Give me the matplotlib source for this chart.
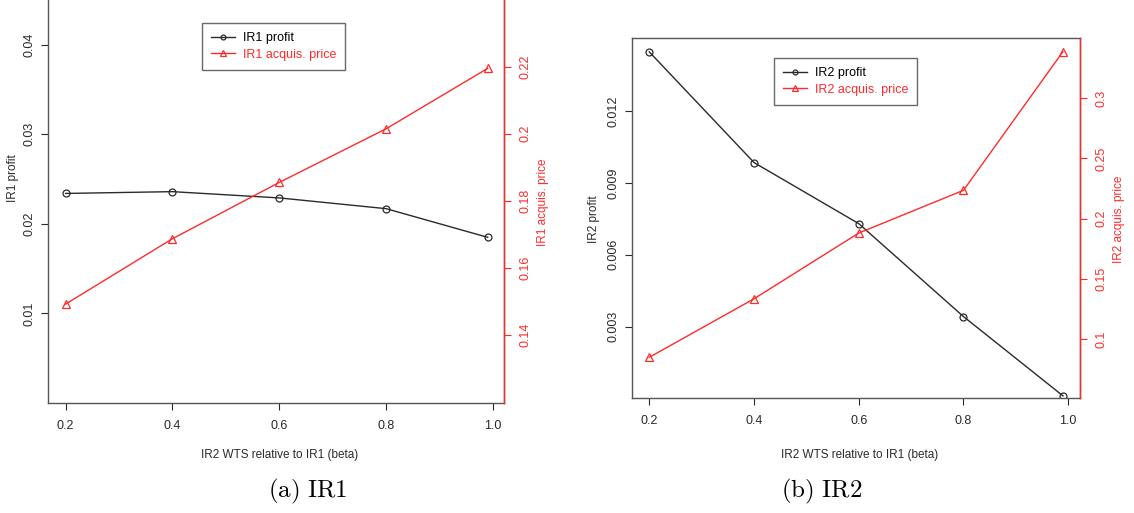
import matplotlib
matplotlib.use("Agg")
import matplotlib.pyplot as plt

plt.rcParams['font.family'] = ['Liberation Sans', 'DejaVu Sans']
plt.rcParams['mathtext.fontset'] = 'cm'

# data
beta = [0.2, 0.4, 0.6, 0.8, 0.99]
ir1_profit = [0.0234, 0.0236, 0.0229, 0.0217, 0.0185]
ir1_price = [0.1492, 0.1687, 0.1855, 0.2015, 0.2195]
ir2_profit = [0.01447, 0.00985, 0.0073, 0.00342, 0.00011]
ir2_price = [0.0848, 0.1334, 0.188, 0.2235, 0.3387]

xticks = [0.2, 0.4, 0.6, 0.8, 1.0]
xtick_labels = ['0.2', '0.4', '0.6', '0.8', '1.0']
ir1_profit_ticks = [0.01, 0.02, 0.03, 0.04]
ir1_profit_labels = ['0.01', '0.02', '0.03', '0.04']
ir1_price_ticks = [0.14, 0.16, 0.18, 0.20, 0.22]
ir1_price_labels = ['0.14', '0.16', '0.18', '0.2', '0.22']
ir2_profit_ticks = [0.003, 0.006, 0.009, 0.012]
ir2_profit_labels = ['0.003', '0.006', '0.009', '0.012']
ir2_price_ticks = [0.1, 0.15, 0.2, 0.25, 0.3]
ir2_price_labels = ['0.1', '0.15', '0.2', '0.25', '0.3']

W, H = 1134, 513
fig = plt.figure(figsize=(W / 100, H / 100), dpi=100)

BLACK = '#2a2a2a'
RED = '#ff2a2a'
FS = 9


def px_axes(x0, y0, x1, y1):
    return fig.add_axes([x0 / W, 1 - y1 / H, (x1 - x0) / W, (y1 - y0) / H])


def panel(ax, profit, price, name, ylim1, ylim2, t1, l1, t2, l2, xlim, leg_xy):
    ax.plot(beta, profit, color=BLACK, lw=1, marker='o', ms=5, mfc='none',
            mec=BLACK, mew=0.9, label=name + ' profit')
    ax.set_xlim(*xlim)
    ax.set_ylim(*ylim1)
    ax.set_xticks(xticks, xtick_labels)
    ax.set_yticks(t1, l1)
    ax.tick_params(axis='both', direction='out', length=5, width=0.8,
                   labelsize=FS, colors=BLACK)
    ax.tick_params(axis='y', labelrotation=90, pad=4)
    ax.tick_params(axis='x', pad=7)
    for lab in ax.get_yticklabels():
        lab.set_va('center')
    for s in ax.spines.values():
        s.set_color('#555555')
        s.set_linewidth(1.0)

    ax2 = ax.twinx()
    ax2.plot(beta, price, color=RED, lw=1, marker='^', ms=5.5, mfc='none',
             mec=RED, mew=0.9, label=name + ' acquis. price')
    ax2.set_ylim(*ylim2)
    ax2.set_yticks(t2, l2)
    ax2.tick_params(axis='y', direction='out', length=5, width=0.8,
                    labelsize=FS, colors=RED, labelrotation=90, pad=6)
    for lab in ax2.get_yticklabels():
        lab.set_va('center')
    ax2.spines['right'].set_color(RED)
    ax2.spines['right'].set_linewidth(1.0)
    for k in ['left', 'top', 'bottom']:
        ax2.spines[k].set_visible(False)

    h1, lb1 = ax.get_legend_handles_labels()
    h2, lb2 = ax2.get_legend_handles_labels()
    leg = ax2.legend(h1 + h2, lb1 + lb2, loc='upper left',
                     bbox_to_anchor=(leg_xy[0] / W, 1 - leg_xy[1] / H),
                     bbox_transform=fig.transFigure, fontsize=FS,
                     fancybox=False, frameon=True, handlelength=1.9,
                     handletextpad=0.6, borderpad=0.75, labelspacing=0.35,
                     borderaxespad=0, markerscale=0.7)
    leg.get_frame().set_edgecolor('#444444')
    leg.get_frame().set_linewidth(1.0)
    leg.get_texts()[1].set_color(RED)
    return ax2


# panel (a)
axa = px_axes(48, 0, 504, 403)
axa.spines['top'].set_visible(False)
axa2 = panel(axa, ir1_profit, ir1_price, 'IR1', (0.0, 0.045), (0.1197, 0.2399),
             ir1_profit_ticks, ir1_profit_labels, ir1_price_ticks, ir1_price_labels,
             (0.167, 1.0206), (202, 23))

# panel (b)
axb = px_axes(632, 38, 1080, 398)
axb2 = panel(axb, ir2_profit, ir2_price, 'IR2', (0.00002, 0.01505), (0.051, 0.35),
             ir2_profit_ticks, ir2_profit_labels, ir2_price_ticks, ir2_price_labels,
             (0.167, 1.0225), (774, 58))

# axis titles
fig.text(13 / W, 1 - 178 / H, 'IR1 profit', rotation=90, ha='center', va='center',
         fontsize=8.5, color=BLACK)
fig.text(543 / W, 1 - 202 / H, 'IR1 acquis. price', rotation=90, ha='center',
         va='center', fontsize=8.5, color=RED)
fig.text(594 / W, 1 - 219 / H, 'IR2 profit', rotation=90, ha='center', va='center',
         fontsize=8.5, color=BLACK)
fig.text(1119 / W, 1 - 219 / H, 'IR2 acquis. price', rotation=90, ha='center',
         va='center', fontsize=8.5, color=RED)
fig.text(280 / W, 1 - 455 / H, 'IR2 WTS relative to IR1 (beta)', ha='center',
         va='center', fontsize=8.5, color=BLACK)
fig.text(860 / W, 1 - 455 / H, 'IR2 WTS relative to IR1 (beta)', ha='center',
         va='center', fontsize=8.5, color=BLACK)

# captions
fig.text(308 / W, 1 - 491 / H, r'$\mathrm{(a)\ IR1}$', ha='center', va='center',
         fontsize=18, color='black')
fig.text(822 / W, 1 - 491 / H, r'$\mathrm{(b)\ IR2}$', ha='center', va='center',
         fontsize=18, color='black')

fig.savefig('out.png', dpi=100)
